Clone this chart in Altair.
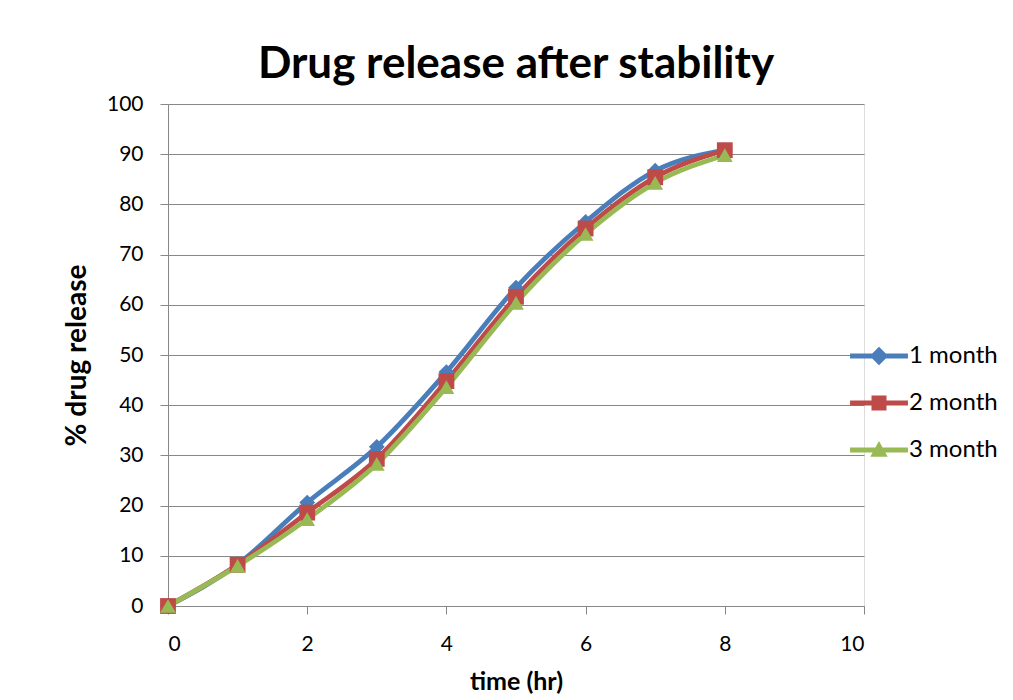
import altair as alt
import pandas as pd

time_hr = [0, 1, 2, 3, 4, 5, 6, 7, 8]
month1 = [0, 8.3, 20.6, 31.7, 46.6, 63.4, 76.5, 86.7, 90.8]
month2 = [0, 8.2, 18.6, 29.3, 44.8, 61.6, 75.2, 85.4, 90.8]
month3 = [0, 8.0, 17.3, 28.3, 43.6, 60.4, 74.1, 84.3, 89.8]
series_names = ["1 month", "2 month", "3 month"]
series_colors = ["#4A7EBB", "#BE4B48", "#98B954"]

rows = []
for name, vals in zip(series_names, [month1, month2, month3]):
    for t, v in zip(time_hr, vals):
        rows.append({"time": t, "release": v, "series": name})
df = pd.DataFrame(rows)

FONT = "Lato"
GRAY = "#878787"

x_enc = alt.X("time:Q", scale=alt.Scale(domain=[0, 10], nice=False),
              axis=alt.Axis(values=[0, 2, 4, 6, 8, 10], grid=False, title="time (hr)",
                            tickSize=8, tickColor=GRAY, domainColor=GRAY,
                            labelFontSize=21, labelFont=FONT, labelColor="black",
                            labelPadding=19, titleFont=FONT, titleFontSize=25,
                            titleFontWeight="bold", titlePadding=15, titleColor="black"))
y_enc = alt.Y("release:Q", scale=alt.Scale(domain=[0, 100], nice=False),
              axis=alt.Axis(values=list(range(0, 101, 10)), grid=True, gridColor=GRAY,
                            title="% drug release", tickSize=8, tickColor=GRAY,
                            domainColor=GRAY, labelFontSize=21, labelFont=FONT,
                            labelColor="black", labelPadding=17, titleFont=FONT,
                            titleFontSize=28, titleFontWeight="bold", titlePadding=15,
                            titleColor="black"))

cscale = alt.Scale(domain=series_names, range=series_colors)

base = alt.Chart(df)

lines = base.mark_line(interpolate="monotone", strokeWidth=4.8).encode(
    x=x_enc, y=y_enc,
    color=alt.Color("series:N", scale=cscale, legend=None),
    detail="series:N",
)

points = base.mark_point(filled=True, size=250, opacity=1).encode(
    x=x_enc, y=y_enc,
    color=alt.Color("series:N", scale=cscale, legend=None),
    shape=alt.Shape("series:N", scale=alt.Scale(domain=series_names,
                    range=["diamond", "square", "triangle-up"]), legend=None),
)

legend_paths = [
    "M-1.93,-0.17L1.93,-0.17L1.93,0.17L-1.93,0.17Z M0,-0.62L0.62,0L0,0.62L-0.62,0Z",
    "M-1.93,-0.17L1.93,-0.17L1.93,0.17L-1.93,0.17Z M-0.5,-0.5L0.5,-0.5L0.5,0.5L-0.5,0.5Z",
    "M-1.93,-0.17L1.93,-0.17L1.93,0.17L-1.93,0.17Z M0,-0.6L0.58,0.45L-0.58,0.45Z",
]
leg_props = dict(orient="none", legendX=696, legendY=237, symbolSize=900,
                 symbolStrokeWidth=0, labelFontSize=24, labelFont=FONT,
                 labelColor="black", labelOffset=15, rowPadding=20, padding=0,
                 title=None, symbolOpacity=1)

legend_layer = base.transform_filter("datum.time < -1").mark_point(
    filled=True, opacity=1).encode(
    x=x_enc, y=y_enc,
    color=alt.Color("series:N", scale=alt.Scale(domain=series_names, range=series_colors),
                    legend=alt.Legend(**leg_props)),
    shape=alt.Shape("series:N", scale=alt.Scale(domain=series_names, range=legend_paths),
                    legend=alt.Legend(**leg_props)),
)

chart = alt.layer(lines, points, legend_layer).resolve_scale(
    color="independent", shape="independent"
).properties(
    width=696, height=502,
    title=alt.TitleParams("Drug release after stability", font=FONT, fontSize=44,
                          fontWeight="bold", color="black", anchor="middle",
                          baseline="bottom", offset=18, dy=56),
    autosize=alt.AutoSizeParams(type="none"),
    padding={"left": 160, "top": 96, "right": 135, "bottom": 92},
).configure_view(stroke=None).configure(background="white")

chart.save("out.html", embed_options={"renderer": "svg", "actions": False})
